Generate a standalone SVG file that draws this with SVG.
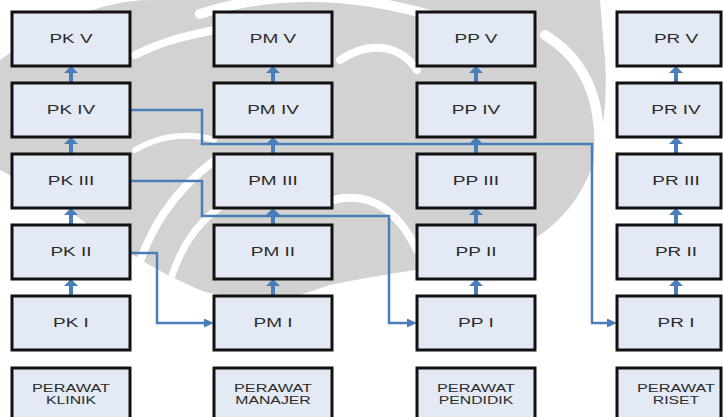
<svg xmlns="http://www.w3.org/2000/svg" width="723" height="417" viewBox="0 0 723 417">
  <style>
    .box { fill: #e3eaf5; stroke: #111; stroke-width: 3; }
    .lbl { font-family: "Liberation Sans", Arial, sans-serif; font-size: 12px; fill: #2a2a2a; text-anchor: middle; }
    .cap { font-family: "Liberation Sans", Arial, sans-serif; font-size: 10px; fill: #2a2a2a; text-anchor: middle; }
    .up { stroke: #4a7ebb; stroke-width: 4; fill: none; marker-end: url(#headUp); }
    .link { stroke: #4a7ebb; stroke-width: 2.5; fill: none; marker-end: url(#headSide); }
    .wm { fill: #d2d2d2; }
    .swirl { fill: none; stroke: #ffffff; stroke-linecap: round; }
  </style>
  <defs>
    <marker id="headUp" viewBox="0 0 7 14" refX="2" refY="7" markerWidth="7" markerHeight="14" markerUnits="userSpaceOnUse" orient="auto">
      <path d="M0,0 L7,7 L0,14 Z" fill="#4a7ebb"/>
    </marker>
    <marker id="headSide" viewBox="0 0 10 9" refX="4" refY="4.5" markerWidth="10" markerHeight="9" markerUnits="userSpaceOnUse" orient="auto">
      <path d="M0,0 L10,4.5 L0,9 Z" fill="#4a7ebb"/>
    </marker>
  </defs>

  <rect width="723" height="417" fill="#ffffff"/>

  <!-- faint emblem in the background -->
  <g id="emblem">
    <path class="wm" d="M0,60 C50,25 100,0 150,0 L600,0 L605,60 C610,140 590,200 540,235 C480,265 400,270 330,285 L270,305 L205,292 C150,270 100,235 55,200 L0,170 Z"/>
    <path class="swirl" stroke-width="10" d="M200,14 Q310,-22 440,18"/>
    <path class="swirl" stroke-width="8" d="M135,55 C165,40 190,35 215,30"/>
    <path class="swirl" stroke-width="6" d="M135,150 C160,135 190,132 214,140"/>
    <path class="swirl" stroke-width="8" d="M130,295 C145,230 175,190 215,160"/>
    <path class="swirl" stroke-width="7" d="M165,300 C178,245 200,215 240,195"/>
    <path class="swirl" stroke-width="8" d="M333,200 C375,190 400,215 417,250"/>
    <path class="swirl" stroke-width="8" d="M340,60 C370,40 400,45 417,70"/>
    <path class="swirl" stroke-width="10" d="M545,35 C585,60 605,100 598,170"/>
  </g>

  <!-- connectors -->
  <g id="connectors">
    <path class="up" d="M71,83 V71"/>
    <path class="up" d="M71,154 V142"/>
    <path class="up" d="M71,225 V213"/>
    <path class="up" d="M71,296 V284"/>
    <path class="up" d="M273,83 V71"/>
    <path class="up" d="M273,154 V142"/>
    <path class="up" d="M273,225 V213"/>
    <path class="up" d="M273,296 V284"/>
    <path class="up" d="M476,83 V71"/>
    <path class="up" d="M476,154 V142"/>
    <path class="up" d="M476,225 V213"/>
    <path class="up" d="M476,296 V284"/>
    <path class="up" d="M676,83 V71"/>
    <path class="up" d="M676,154 V142"/>
    <path class="up" d="M676,225 V213"/>
    <path class="up" d="M676,296 V284"/>
    <path class="link" d="M130,110 H202 V144 H592 V323 H611"/>
    <path class="link" d="M130,181 H202 V216 H389 V323 H411"/>
    <path class="link" d="M130,253 H157 V323 H208"/>
  </g>

  <!-- column 1: clinical nurse -->
  <g id="pk5"><rect class="box" x="12" y="12" width="118" height="54"/><text class="lbl" x="71" y="43" textLength="43" lengthAdjust="spacingAndGlyphs">PK V</text></g>
  <g id="pk4"><rect class="box" x="12" y="83" width="118" height="54"/><text class="lbl" x="71" y="114" textLength="48.5" lengthAdjust="spacingAndGlyphs">PK IV</text></g>
  <g id="pk3"><rect class="box" x="12" y="154" width="118" height="54"/><text class="lbl" x="71" y="185" textLength="46.4" lengthAdjust="spacingAndGlyphs">PK III</text></g>
  <g id="pk2"><rect class="box" x="12" y="225" width="118" height="54"/><text class="lbl" x="71" y="256" textLength="41" lengthAdjust="spacingAndGlyphs">PK II</text></g>
  <g id="pk1"><rect class="box" x="12" y="296" width="118" height="54"/><text class="lbl" x="71" y="327" textLength="35.8" lengthAdjust="spacingAndGlyphs">PK I</text></g>
  <g id="klinik"><rect class="box" x="12" y="368" width="118" height="60"/><text class="cap" x="71" y="392" textLength="78" lengthAdjust="spacingAndGlyphs">PERAWAT</text><text class="cap" x="71" y="403.5" textLength="50" lengthAdjust="spacingAndGlyphs">KLINIK</text></g>

  <!-- column 2: manager nurse -->
  <g id="pm5"><rect class="box" x="214" y="12" width="118" height="54"/><text class="lbl" x="273" y="43" textLength="46.3" lengthAdjust="spacingAndGlyphs">PM V</text></g>
  <g id="pm4"><rect class="box" x="214" y="83" width="118" height="54"/><text class="lbl" x="273" y="114" textLength="51.7" lengthAdjust="spacingAndGlyphs">PM IV</text></g>
  <g id="pm3"><rect class="box" x="214" y="154" width="118" height="54"/><text class="lbl" x="273" y="185" textLength="49.6" lengthAdjust="spacingAndGlyphs">PM III</text></g>
  <g id="pm2"><rect class="box" x="214" y="225" width="118" height="54"/><text class="lbl" x="273" y="256" textLength="44.3" lengthAdjust="spacingAndGlyphs">PM II</text></g>
  <g id="pm1"><rect class="box" x="214" y="296" width="118" height="54"/><text class="lbl" x="273" y="327" textLength="39" lengthAdjust="spacingAndGlyphs">PM I</text></g>
  <g id="manajer"><rect class="box" x="214" y="368" width="118" height="60"/><text class="cap" x="273" y="392" textLength="78" lengthAdjust="spacingAndGlyphs">PERAWAT</text><text class="cap" x="273" y="403.5" textLength="75.5" lengthAdjust="spacingAndGlyphs">MANAJER</text></g>

  <!-- column 3: educator nurse -->
  <g id="pp5"><rect class="box" x="417" y="12" width="118" height="54"/><text class="lbl" x="476" y="43" textLength="43" lengthAdjust="spacingAndGlyphs">PP V</text></g>
  <g id="pp4"><rect class="box" x="417" y="83" width="118" height="54"/><text class="lbl" x="476" y="114" textLength="48.5" lengthAdjust="spacingAndGlyphs">PP IV</text></g>
  <g id="pp3"><rect class="box" x="417" y="154" width="118" height="54"/><text class="lbl" x="476" y="185" textLength="46.4" lengthAdjust="spacingAndGlyphs">PP III</text></g>
  <g id="pp2"><rect class="box" x="417" y="225" width="118" height="54"/><text class="lbl" x="476" y="256" textLength="41" lengthAdjust="spacingAndGlyphs">PP II</text></g>
  <g id="pp1"><rect class="box" x="417" y="296" width="118" height="54"/><text class="lbl" x="476" y="327" textLength="35.8" lengthAdjust="spacingAndGlyphs">PP I</text></g>
  <g id="pendidik"><rect class="box" x="417" y="368" width="118" height="60"/><text class="cap" x="476" y="392" textLength="78" lengthAdjust="spacingAndGlyphs">PERAWAT</text><text class="cap" x="476" y="403.5" textLength="74.6" lengthAdjust="spacingAndGlyphs">PENDIDIK</text></g>

  <!-- column 4: research nurse -->
  <g id="pr5"><rect class="box" x="617" y="12" width="104" height="54"/><text class="lbl" x="676" y="43" textLength="44.2" lengthAdjust="spacingAndGlyphs">PR V</text></g>
  <g id="pr4"><rect class="box" x="617" y="83" width="104" height="54"/><text class="lbl" x="676" y="114" textLength="49.5" lengthAdjust="spacingAndGlyphs">PR IV</text></g>
  <g id="pr3"><rect class="box" x="617" y="154" width="104" height="54"/><text class="lbl" x="676" y="185" textLength="47.4" lengthAdjust="spacingAndGlyphs">PR III</text></g>
  <g id="pr2"><rect class="box" x="617" y="225" width="104" height="54"/><text class="lbl" x="676" y="256" textLength="42.1" lengthAdjust="spacingAndGlyphs">PR II</text></g>
  <g id="pr1"><rect class="box" x="617" y="296" width="104" height="54"/><text class="lbl" x="676" y="327" textLength="36.9" lengthAdjust="spacingAndGlyphs">PR I</text></g>
  <g id="riset"><rect class="box" x="617" y="368" width="104" height="60"/><text class="cap" x="676" y="392" textLength="78" lengthAdjust="spacingAndGlyphs">PERAWAT</text><text class="cap" x="676" y="403.5" textLength="46.5" lengthAdjust="spacingAndGlyphs">RISET</text></g>
</svg>
